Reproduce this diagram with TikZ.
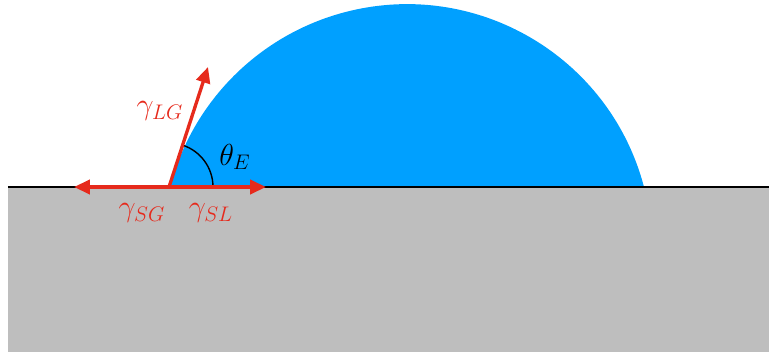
\documentclass[tikz,border=0pt]{standalone}
\usepackage{xcolor}
\usepackage{tikz}
\usetikzlibrary{arrows.meta, positioning, calc}
\definecolor{droplet}{HTML}{00A0FF}
\definecolor{substrate}{HTML}{BEBEBE}
\definecolor{tension}{HTML}{E62A1C}

\begin{document}
\begin{tikzpicture}[x=0.02cm, y=0.02cm,
    force/.style={draw=tension, line width=1.9pt, -{Triangle[length=9pt, width=8pt]}},
    forcelabel/.style={text=tension, font=\LARGE},
    anglelabel/.style={font=\LARGE}]
    \useasboundingbox (0,0) rectangle (769,352);
    \fill[substrate] (8,0) rectangle (769,165);
    \fill[droplet] (644,165) arc[start angle=14.7, end angle=165.3, radius=245] -- cycle;
    \draw[line width=1.1pt] (8,165) -- (769,165);

    \coordinate (contact) at (169,165);
    \coordinate (lgtip) at (208,285);
    \coordinate (sgtip) at (74,165);
    \coordinate (sltip) at (266,165);

    \draw[line width=0.8pt] ($(contact)+(44,0)$) arc[start angle=0, end angle=72, radius=44];

    \draw[force] (contact) -- (lgtip);
    \draw[force] (contact) -- (sgtip);
    \draw[force] (contact) -- (sltip);

    \node[forcelabel] (lglabel) at (160,241) {$\gamma_{LG}$};
    \node[forcelabel] (sglabel) at (142,139) {$\gamma_{SG}$};
    \node[forcelabel] (sllabel) at (211,139) {$\gamma_{SL}$};
    \node[anglelabel] (thetalabel) at (235,195) {$\theta_E$};
\end{tikzpicture}
\end{document}
